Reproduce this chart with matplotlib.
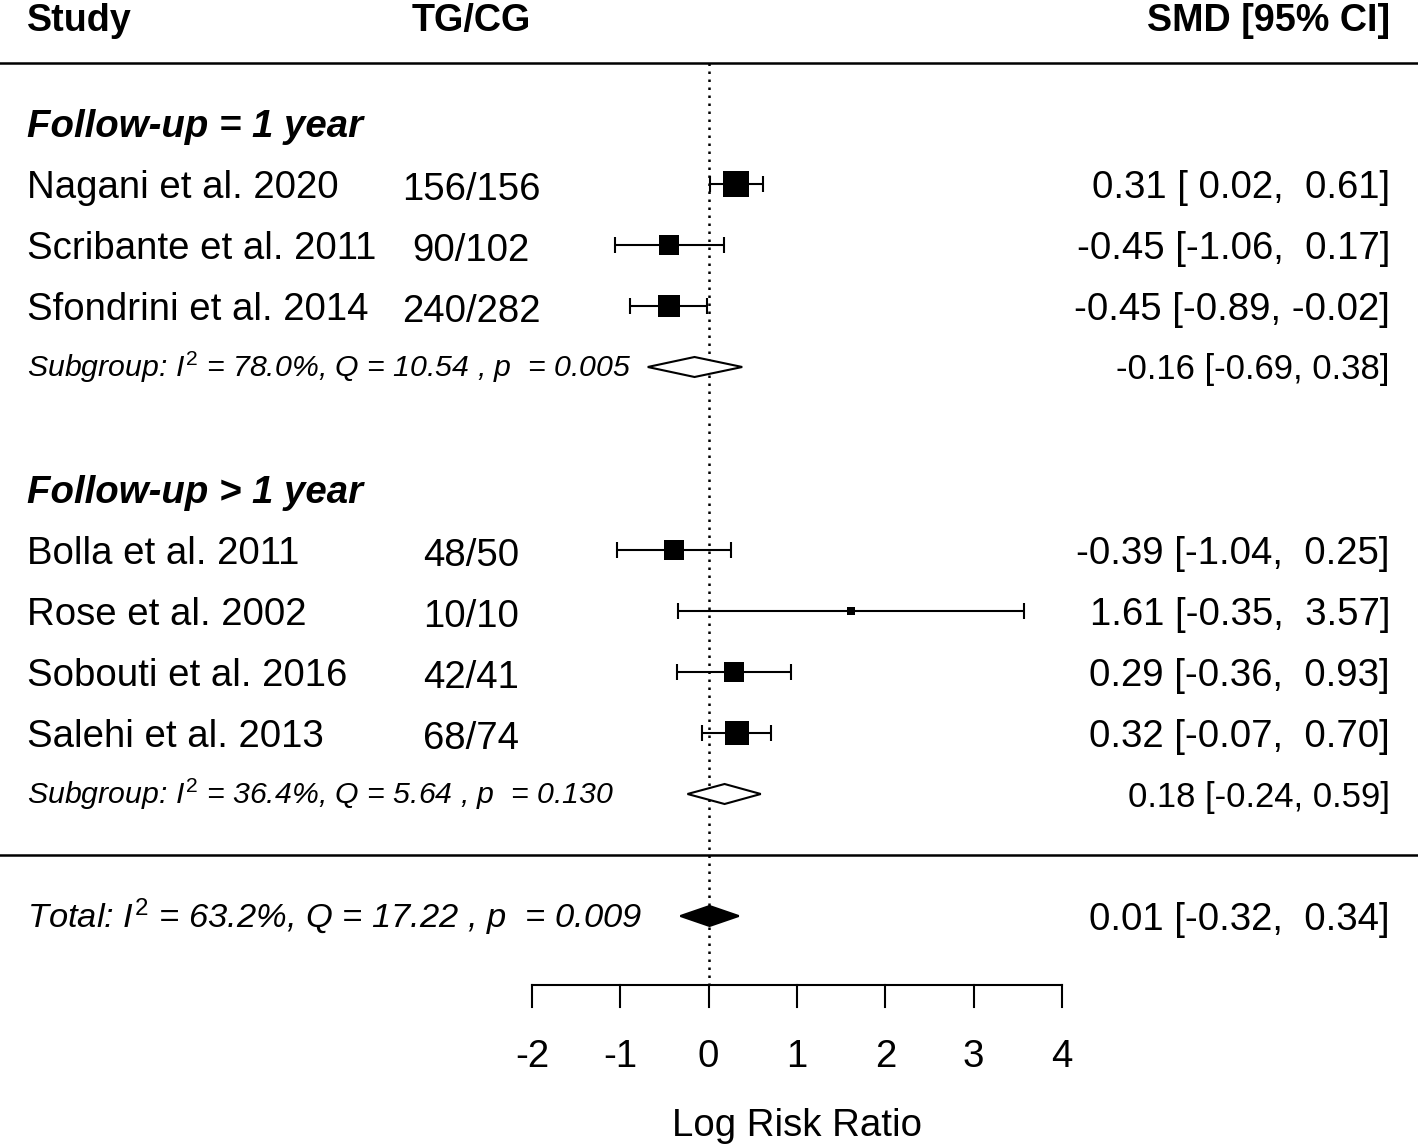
import matplotlib.pyplot as plt
from matplotlib.patches import Polygon
import matplotlib.transforms as mtransforms

plt.rcParams['font.family'] = 'Liberation Sans'
plt.rcParams['mathtext.fontset'] = 'custom'
plt.rcParams['mathtext.it'] = 'Liberation Sans:italic'
plt.rcParams['mathtext.rm'] = 'Liberation Sans'

# study level data
studies = ["Nagani et al. 2020", "Scribante et al. 2011", "Sfondrini et al. 2014",
           "Bolla et al. 2011", "Rose et al. 2002", "Sobouti et al. 2016", "Salehi et al. 2013"]
tg_cg = ["156/156", "90/102", "240/282", "48/50", "10/10", "42/41", "68/74"]
smd = [0.31, -0.45, -0.45, -0.39, 1.61, 0.29, 0.32]
ci_low = [0.02, -1.06, -0.89, -1.04, -0.35, -0.36, -0.07]
ci_high = [0.61, 0.17, -0.02, 0.25, 3.57, 0.93, 0.70]
group = [0, 0, 0, 1, 1, 1, 1]
# relative study weight (box size)
weight = [1.0, 0.77, 0.85, 0.77, 0.31, 0.77, 0.92]

# subgroups
group_labels = ["Follow-up = 1 year", "Follow-up > 1 year"]
sub_est = [-0.16, 0.18]
sub_low = [-0.69, -0.24]
sub_high = [0.38, 0.59]
sub_i2 = ["78.0", "36.4"]
sub_q = ["10.54", "5.64"]
sub_p = ["0.005", "0.130"]

# overall
total_est = 0.01
total_low = -0.32
total_high = 0.34
total_i2 = "63.2"
total_q = "17.22"
total_p = "0.009"

xticks = [-2, -1, 0, 1, 2, 3, 4]

W, H = 1418, 1144
fig = plt.figure(figsize=(W / 100, H / 100), dpi=100)
ax = fig.add_axes([0, 0, 1, 1])
ax.axis('off')

# scale: -2..4 spans px 532..1062, one row = 61 px, first study row at px 184
ppu = (1062 - 532) / 6
x0 = 532 + 2 * ppu
ax.set_xlim(-x0 / ppu, (W - x0) / ppu)
ax.set_ylim((H - 184) / 61, -184 / 61)
px = lambda v: v / 61.0  # pixels -> rows

trans = mtransforms.blended_transform_factory(ax.transAxes, ax.transData)
col_study = 27 / W
col_n = 471 / W
col_ci = 1390 / W
fs = 27.6
base = px(13.7)

# layout of rows
rows = []
r = 0
g_rows = []
sub_rows = []
for gi in range(len(group_labels)):
    g_rows.append(r - 1)
    for i in range(len(studies)):
        if group[i] == gi:
            rows.append(r)
            r += 1
    sub_rows.append(r)
    r += 3
total_row = sub_rows[-1] + 2
top_line = px(63 - 184)
sep_line = sub_rows[-1] + 1
axis_y = total_row + px(983 - 914)

# header
hdr_y = px(31 - 184)
ax.text(col_study, hdr_y, "Study", transform=trans, fontsize=27.2, fontweight='bold', va='baseline')
ax.text(col_n, hdr_y, "TG/CG", transform=trans, fontsize=27.2, fontweight='bold', va='baseline', ha='center')
ax.text(col_ci, hdr_y, "SMD [95% CI]", transform=trans, fontsize=27.2, fontweight='bold', va='baseline', ha='right')

for yl in [top_line, sep_line]:
    ax.plot([0, 1], [yl, yl], transform=trans, color='black', lw=1.8, clip_on=False)

# reference line
ax.plot([0, 0], [top_line, axis_y], color='black', lw=1.8, linestyle=(0, (1, 2.2)))

# group labels
for gi, lab in enumerate(group_labels):
    ax.text(col_study, g_rows[gi] + base, lab, transform=trans, fontsize=fs,
            fontweight='bold', fontstyle='italic', va='baseline')

# studies
for i in range(len(studies)):
    y = rows[i]
    ax.text(col_study, y + base, studies[i], transform=trans, fontsize=fs, va='baseline')
    ax.text(col_n, y + base + px(2), tg_cg[i], transform=trans, fontsize=fs, va='baseline', ha='center')
    ax.text(col_ci, y + base, f"{smd[i]:.2f} [{ci_low[i]:5.2f}, {ci_high[i]:5.2f}]",
            transform=trans, fontsize=fs, va='baseline', ha='right')
    ax.errorbar(smd[i], y, xerr=[[smd[i] - ci_low[i]], [ci_high[i] - smd[i]]], fmt='none',
                ecolor='black', elinewidth=1.5, capsize=5.8, capthick=1.5)
    ax.scatter([smd[i]], [y], marker='s', s=(26 * 0.72 * weight[i]) ** 2, color='black',
               linewidths=0, zorder=3)


def diamond(est, lo, hi, y, fill):
    h = px(10)
    poly = Polygon([(lo, y), (est, y - h), (hi, y), (est, y + h)], closed=True,
                   facecolor=fill, edgecolor='black', lw=1.5, zorder=3)
    ax.add_patch(poly)


for gi in range(len(group_labels)):
    y = sub_rows[gi]
    diamond(sub_est[gi], sub_low[gi], sub_high[gi], y, 'white')
    ax.text(col_study, y + px(10), rf"Subgroup: $I^{{2}}$ = {sub_i2[gi]}%, Q = {sub_q[gi]} , p  = {sub_p[gi]}",
            transform=trans, fontsize=21.8, fontstyle='italic', va='baseline')
    ax.text(col_ci, y + px(12.5), f"{sub_est[gi]:.2f} [{sub_low[gi]:.2f}, {sub_high[gi]:.2f}]",
            transform=trans, fontsize=24.9, va='baseline', ha='right')

diamond(total_est, total_low, total_high, total_row, 'black')
ax.text(col_study, total_row + px(12), rf"Total: $I^{{2}}$ = {total_i2}%, Q = {total_q} , p  = {total_p}",
        transform=trans, fontsize=24.8, fontstyle='italic', va='baseline')
ax.text(col_ci, total_row + base, f"{total_est:.2f} [{total_low:5.2f}, {total_high:5.2f}]",
        transform=trans, fontsize=fs, va='baseline', ha='right')

# x axis
ax.plot([xticks[0], xticks[-1]], [axis_y, axis_y], color='black', lw=1.5)
for t in xticks:
    ax.plot([t, t], [axis_y, axis_y + px(22)], color='black', lw=1.5)
    ax.text(t, axis_y + px(1065 - 983), str(t), fontsize=fs, ha='center', va='baseline')
ax.text((xticks[0] + xticks[-1]) / 2, axis_y + px(1134 - 983), "Log Risk Ratio",
        fontsize=fs, ha='center', va='baseline')

fig.savefig("out.png", dpi=100)
